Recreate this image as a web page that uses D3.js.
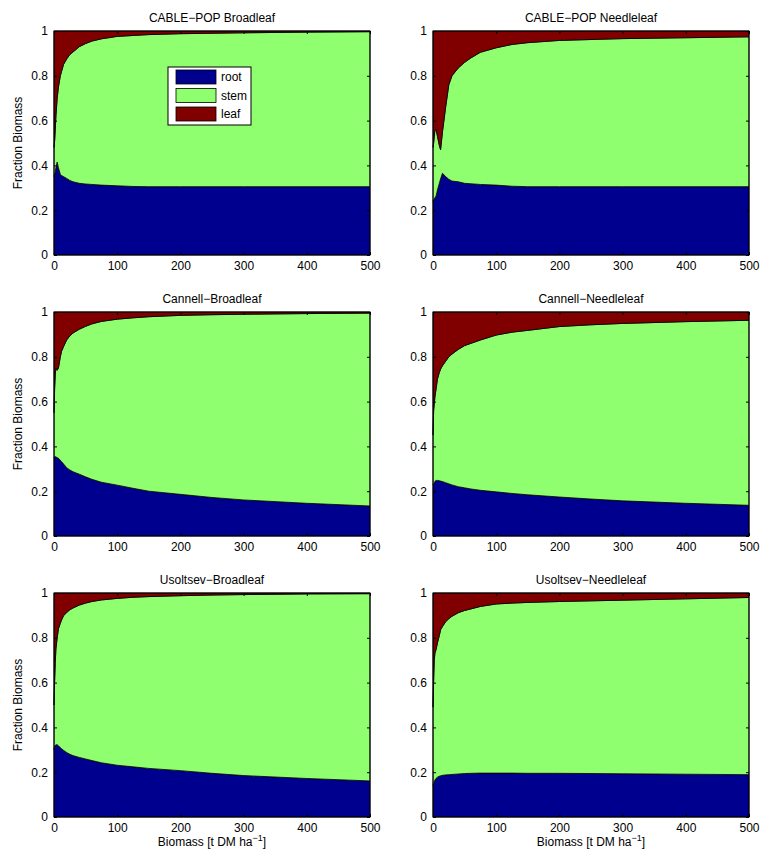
<!DOCTYPE html>
<html>
<head>
<meta charset="utf-8">
<script src="https://cdn.jsdelivr.net/npm/d3@7"></script>
<style>
body{margin:0;background:#fff;}
text{font-family:"Liberation Sans",Arial,Helvetica,sans-serif;}
</style>
</head>
<body>
<script>
// ---- data ----
const biomass = [0, 1, 2, 3, 5, 7, 10, 12, 15, 20, 25, 30, 40, 50, 60, 75, 100, 125, 150, 200, 250, 300, 400, 500];
const xTicks = [0, 100, 200, 300, 400, 500];
const yTicks = [0, 0.2, 0.4, 0.6, 0.8, 1];
const yTickLabels = ["0", "0.2", "0.4", "0.6", "0.8", "1"];
const components = ["root", "stem", "leaf"];
const colors = ["#00008f", "#8fff70", "#800000"];
const titles = ["CABLE\u2212POP Broadleaf", "CABLE\u2212POP Needleleaf", "Cannell\u2212Broadleaf", "Cannell\u2212Needleleaf", "Usoltsev\u2212Broadleaf", "Usoltsev\u2212Needleleaf"];

const cableBroadRoot = [0.35,0.36,0.37,0.39,0.415,0.39,0.36,0.355,0.35,0.342,0.333,0.327,0.32,0.317,0.315,0.312,0.309,0.306,0.305,0.305,0.305,0.305,0.305,0.305];
const cableBroadStem = [0.13,0.15,0.19,0.23,0.285,0.36,0.44,0.465,0.50,0.533,0.562,0.579,0.61,0.627,0.64,0.653,0.667,0.674,0.679,0.683,0.685,0.687,0.69,0.692];
const cableBroadLeaf = [0.52,0.49,0.44,0.38,0.30,0.25,0.20,0.18,0.15,0.125,0.105,0.094,0.07,0.056,0.045,0.035,0.024,0.02,0.016,0.012,0.01,0.008,0.005,0.003];

const cableNeedleRoot = [0.24,0.245,0.25,0.255,0.265,0.29,0.32,0.34,0.365,0.35,0.338,0.33,0.327,0.32,0.318,0.315,0.312,0.307,0.305,0.305,0.305,0.305,0.305,0.305];
const cableNeedleStem = [0.24,0.255,0.28,0.30,0.295,0.24,0.17,0.13,0.185,0.31,0.422,0.47,0.508,0.54,0.562,0.59,0.613,0.633,0.643,0.653,0.657,0.661,0.665,0.669];
const cableNeedleLeaf = [0.52,0.50,0.47,0.445,0.44,0.47,0.51,0.53,0.45,0.34,0.24,0.20,0.165,0.14,0.12,0.095,0.075,0.06,0.052,0.042,0.038,0.034,0.03,0.026];

const cannellBroadRoot = [0.35,0.354,0.355,0.353,0.35,0.347,0.338,0.332,0.322,0.305,0.295,0.287,0.276,0.264,0.253,0.24,0.227,0.213,0.2,0.186,0.172,0.161,0.146,0.134];
const cannellBroadStem = [0.2,0.306,0.365,0.397,0.39,0.403,0.462,0.493,0.523,0.57,0.598,0.619,0.647,0.672,0.694,0.718,0.741,0.761,0.779,0.799,0.816,0.829,0.847,0.861];
const cannellBroadLeaf = [0.45,0.34,0.28,0.25,0.26,0.25,0.20,0.175,0.155,0.125,0.107,0.094,0.077,0.064,0.053,0.042,0.032,0.026,0.021,0.015,0.012,0.01,0.007,0.005];

const cannellNeedleRoot = [0.228,0.232,0.238,0.244,0.248,0.248,0.247,0.245,0.243,0.238,0.233,0.228,0.22,0.215,0.21,0.204,0.197,0.19,0.184,0.174,0.165,0.157,0.146,0.137];
const cannellNeedleStem = [0.222,0.328,0.352,0.376,0.412,0.452,0.483,0.50,0.517,0.542,0.567,0.584,0.613,0.635,0.65,0.671,0.70,0.72,0.734,0.761,0.778,0.792,0.811,0.826];
const cannellNeedleLeaf = [0.55,0.44,0.41,0.38,0.34,0.30,0.27,0.255,0.24,0.22,0.20,0.188,0.167,0.15,0.14,0.125,0.103,0.09,0.082,0.065,0.057,0.051,0.043,0.037];

const usoltsevBroadRoot = [0.30,0.315,0.32,0.322,0.323,0.318,0.31,0.305,0.298,0.288,0.28,0.274,0.266,0.259,0.252,0.242,0.231,0.224,0.217,0.207,0.195,0.185,0.172,0.161];
const usoltsevBroadStem = [0.20,0.295,0.37,0.428,0.477,0.522,0.555,0.575,0.60,0.625,0.645,0.659,0.68,0.696,0.71,0.727,0.745,0.757,0.767,0.781,0.796,0.808,0.824,0.836];
const usoltsevBroadLeaf = [0.50,0.39,0.31,0.25,0.20,0.16,0.135,0.12,0.102,0.087,0.075,0.067,0.054,0.045,0.038,0.031,0.024,0.019,0.016,0.012,0.009,0.007,0.004,0.003];

const usoltsevNeedleRoot = [0.14,0.148,0.158,0.165,0.173,0.178,0.182,0.184,0.186,0.188,0.189,0.19,0.192,0.194,0.195,0.196,0.196,0.196,0.195,0.195,0.194,0.193,0.191,0.189];
const usoltsevNeedleStem = [0.35,0.462,0.542,0.565,0.577,0.599,0.628,0.652,0.664,0.684,0.696,0.706,0.72,0.728,0.734,0.744,0.755,0.759,0.763,0.767,0.771,0.775,0.783,0.791];
const usoltsevNeedleLeaf = [0.51,0.39,0.30,0.27,0.25,0.223,0.19,0.164,0.15,0.128,0.115,0.104,0.088,0.078,0.071,0.06,0.049,0.045,0.042,0.038,0.035,0.032,0.026,0.02];

const panelSeries = [
  [cableBroadRoot, cableBroadStem, cableBroadLeaf],
  [cableNeedleRoot, cableNeedleStem, cableNeedleLeaf],
  [cannellBroadRoot, cannellBroadStem, cannellBroadLeaf],
  [cannellNeedleRoot, cannellNeedleStem, cannellNeedleLeaf],
  [usoltsevBroadRoot, usoltsevBroadStem, usoltsevBroadLeaf],
  [usoltsevNeedleRoot, usoltsevNeedleStem, usoltsevNeedleLeaf]
];

// ---- layout ----
const W = 762, H = 856;
const colX = [54, 433], plotW = 316;
const rowY = [31, 312, 593], plotH = 224;

const svg = d3.select("body").append("svg").attr("width", W).attr("height", H);

panelSeries.forEach((series, i) => {
  const col = i % 2, row = Math.floor(i / 2);
  const g = svg.append("g").attr("transform", `translate(${colX[col]},${rowY[row]})`);
  const x = d3.scaleLinear().domain([0, 500]).range([0, plotW]);
  const y = d3.scaleLinear().domain([0, 1]).range([plotH, 0]);

  const table = biomass.map((b, k) => ({ b, root: series[0][k], stem: series[1][k], leaf: series[2][k] }));
  const stacked = d3.stack().keys(components)(table);
  const area = d3.area().x(d => x(d.data.b)).y0(d => y(d[0])).y1(d => y(Math.min(d[1], 1)));

  g.selectAll("path.area").data(stacked).join("path")
    .attr("class", "area")
    .attr("d", area)
    .attr("fill", (d, k) => colors[k])
    .attr("stroke", "#000").attr("stroke-width", 0.8).attr("stroke-linejoin", "round");

  // axes box
  g.append("rect").attr("width", plotW).attr("height", plotH)
    .attr("fill", "none").attr("stroke", "#000").attr("stroke-width", 1);

  const tl = 3;
  const ax = d3.axisBottom(x).tickValues(xTicks).tickSizeInner(-tl).tickSizeOuter(0).tickPadding(6).tickFormat(d3.format("d"));
  const gx = g.append("g").attr("transform", `translate(0,${plotH})`).call(ax);
  const axT = d3.axisTop(x).tickValues(xTicks).tickSizeInner(-tl).tickSizeOuter(0).tickFormat("");
  const gxt = g.append("g").call(axT);
  const ay = d3.axisLeft(y).tickValues(yTicks).tickSizeInner(-tl).tickSizeOuter(0).tickPadding(6)
    .tickFormat((d, k) => yTickLabels[k]);
  const gy = g.append("g").call(ay);
  const ayR = d3.axisRight(y).tickValues(yTicks).tickSizeInner(-tl).tickSizeOuter(0).tickFormat("");
  const gyr = g.append("g").attr("transform", `translate(${plotW},0)`).call(ayR);
  [gx, gxt, gy, gyr].forEach(a => {
    a.select(".domain").remove();
    a.selectAll("line").attr("stroke", "#000");
    a.selectAll("text").attr("font-size", 12).attr("fill", "#000")
      .attr("font-family", "'Liberation Sans',Arial,sans-serif");
  });
  gx.selectAll("text").attr("dy", "0.71em");

  // title
  g.append("text").attr("x", plotW / 2).attr("y", -9).attr("text-anchor", "middle")
    .attr("font-size", 12).text(titles[i]);

  if (col === 0) {
    g.append("text").attr("transform", `translate(${-32},${plotH / 2}) rotate(-90)`)
      .attr("text-anchor", "middle").attr("font-size", 12).text("Fraction Biomass");
  }
  if (row === 2) {
    const t = g.append("text").attr("x", plotW / 2).attr("y", plotH + 29).attr("text-anchor", "middle").attr("font-size", 12);
    t.append("tspan").text("Biomass [t DM ha");
    t.append("tspan").attr("dy", -5).attr("font-size", 9).text("\u22121");
    t.append("tspan").attr("dy", 5).text("]");
  }

  if (i === 0) {
    const lg = g.append("g").attr("transform", `translate(${168 - colX[0]},${67 - rowY[0]})`);
    lg.append("rect").attr("width", 83).attr("height", 58).attr("fill", "#fff").attr("stroke", "#000").attr("stroke-width", 1);
    components.forEach((c, k) => {
      lg.append("rect").attr("x", 8).attr("y", 3 + k * 18.5).attr("width", 40).attr("height", 14)
        .attr("fill", colors[k]).attr("stroke", "#000").attr("stroke-width", 0.8);
      lg.append("text").attr("x", 53).attr("y", 10 + k * 18.5).attr("dy", "0.35em").attr("font-size", 12).text(c);
    });
  }
});
</script>
</body>
</html>
